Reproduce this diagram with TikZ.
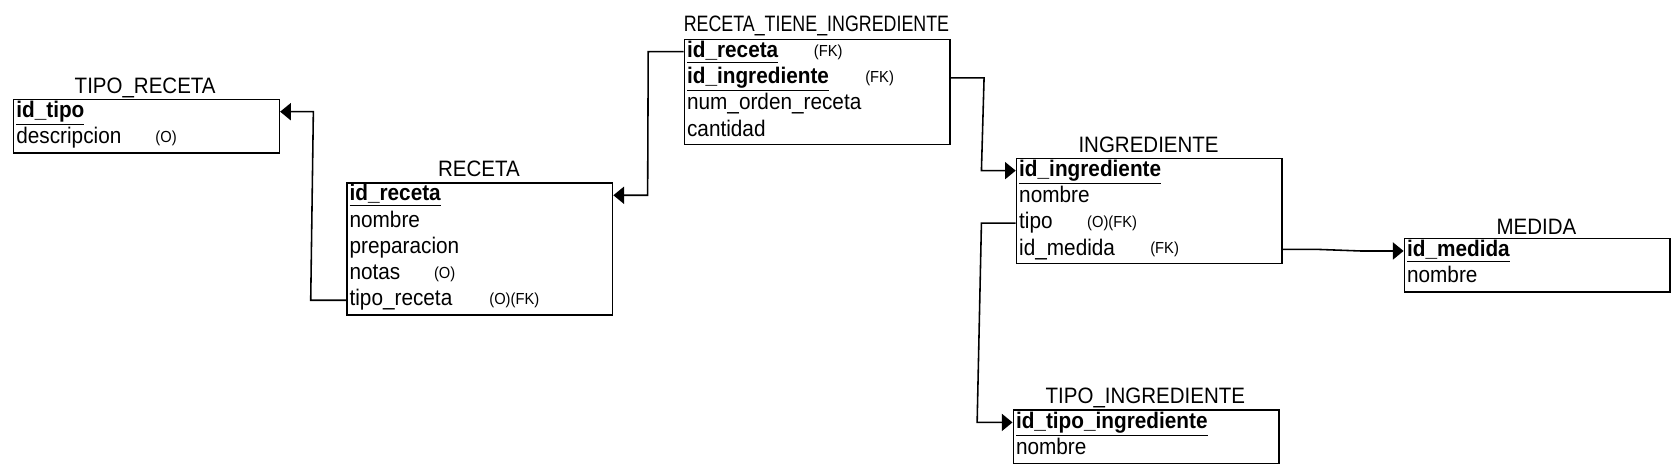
\documentclass[tikz,border=0pt]{standalone}
\usepackage{fontspec}
\setmainfont{Liberation Sans}[FakeStretch=0.92]
\usetikzlibrary{arrows.meta}
\tikzset{
  tbl/.style={draw, line width=1.1pt, anchor=north west, inner sep=0pt, minimum width=186pt},
  ttl/.style={inner sep=0pt, font=\fontsize{15.6}{17}\selectfont},
  fld/.style={anchor=west, inner sep=0pt, text height=11pt, text depth=3pt, font=\fontsize{15.8}{17}\selectfont},
  note/.style={inner sep=0pt, font=\fontsize{11.2}{12}\selectfont},
  fk/.style={line width=1.1pt, -{Triangle[length=7.5pt,width=12pt]}}
}
\newcommand{\pkul}[1]{\underline{\textbf{#1}\vphantom{g}}}
\begin{document}
\begin{tikzpicture}[x=0.75pt,y=-0.75pt]
\useasboundingbox (0,0) rectangle (1568,443);
% TIPO_RECETA
\node[tbl, minimum height=37.5pt] (tr) at (12,92) {};
\node[ttl] (trt) at (135.5,82) {TIPO\_RECETA};
\node[fld] (tr1) at (15,104.25) {\underline{\textbf{id\_tipo}}};
\node[fld] (tr2) at (15,128.75) {descripcion};
\node[note] (tr2n) at (155,129) {(O)};
% RECETA
\node[tbl, minimum height=92.25pt] (re) at (323,170) {};
\node[ttl] (ret) at (447,158) {RECETA};
\node[fld] (re1) at (326,182.25) {\underline{\textbf{id\_receta}}};
\node[fld] (re2) at (326,206.75) {nombre};
\node[fld] (re3) at (326,231.25) {preparacion};
\node[fld] (re4) at (326,255.75) {notas};
\node[note] (re4n) at (415,256) {(O)};
\node[fld] (re5) at (326,280.25) {tipo\_receta};
\node[note] (re5n) at (480,280.5) {(O)(FK)};
% RECETA_TIENE_INGREDIENTE
\node[tbl, minimum height=73.5pt] (rt) at (638,36) {};
\node[ttl] (rtt) at (762,24) {\scalebox{0.87}[1]{RECETA\_TIENE\_INGREDIENTE}};
\node[fld] (rt1) at (641,48.25) {\underline{\textbf{id\_receta}}};
\node[note] (rt1n) at (773,48.5) {(FK)};
\node[fld] (rt2) at (641,72.75) {\underline{\textbf{id\_ingrediente}}};
\node[note] (rt2n) at (821,73) {(FK)};
\node[fld] (rt3) at (641,97.25) {num\_orden\_receta};
\node[fld] (rt4) at (641,121.75) {cantidad};
% INGREDIENTE
\node[tbl, minimum height=73.5pt] (in) at (948,147) {};
\node[ttl] (int) at (1072,135) {INGREDIENTE};
\node[fld] (in1) at (951,159.25) {\underline{\textbf{id\_ingrediente}}};
\node[fld] (in2) at (951,183.75) {nombre};
\node[fld] (in3) at (951,208.25) {tipo};
\node[note] (in3n) at (1038,208.5) {(O)(FK)};
\node[fld] (in4) at (951,232.75) {id\_medida};
\node[note] (in4n) at (1087,233) {(FK)};
% MEDIDA
\node[tbl, minimum height=37.5pt] (me) at (1310,222) {};
\node[ttl] (met) at (1434,212) {MEDIDA};
\node[fld] (me1) at (1313,234.25) {\underline{\textbf{id\_medida}}};
\node[fld] (me2) at (1313,258.75) {nombre};
% TIPO_INGREDIENTE
\node[tbl, minimum height=37.5pt] (ti) at (945,382) {};
\node[ttl] (tit) at (1069,371) {TIPO\_INGREDIENTE};
\node[fld] (ti1) at (948,394.25) {\underline{\textbf{id\_tipo\_ingrediente}}};
\node[fld] (ti2) at (948,418.75) {nombre};
% connectors
\draw[fk] (re.west |- re5) -- ++(-33,0) -- ([xshift=23.25pt]tr.east |- tr1) -- (tr.east |- tr1);
\draw[fk] (rt.west |- rt1) -- ++(-33,0) -- ([xshift=24pt]re.east |- re1) -- (re.east |- re1);
\draw[fk] (rt.east |- rt2) -- ++(31,0) -- ([xshift=-24pt]in.west |- in1) -- (in.west |- in1);
\draw[fk] (in.west |- in3) -- ++(-32,0) -- ([xshift=-24.75pt]ti.west |- ti1) -- (ti.west |- ti1);
\draw[fk] (in.east |- in4) -- ++(32,0) -- ([xshift=-30pt]me.west |- me1) -- (me.west |- me1);
\end{tikzpicture}
\end{document}
